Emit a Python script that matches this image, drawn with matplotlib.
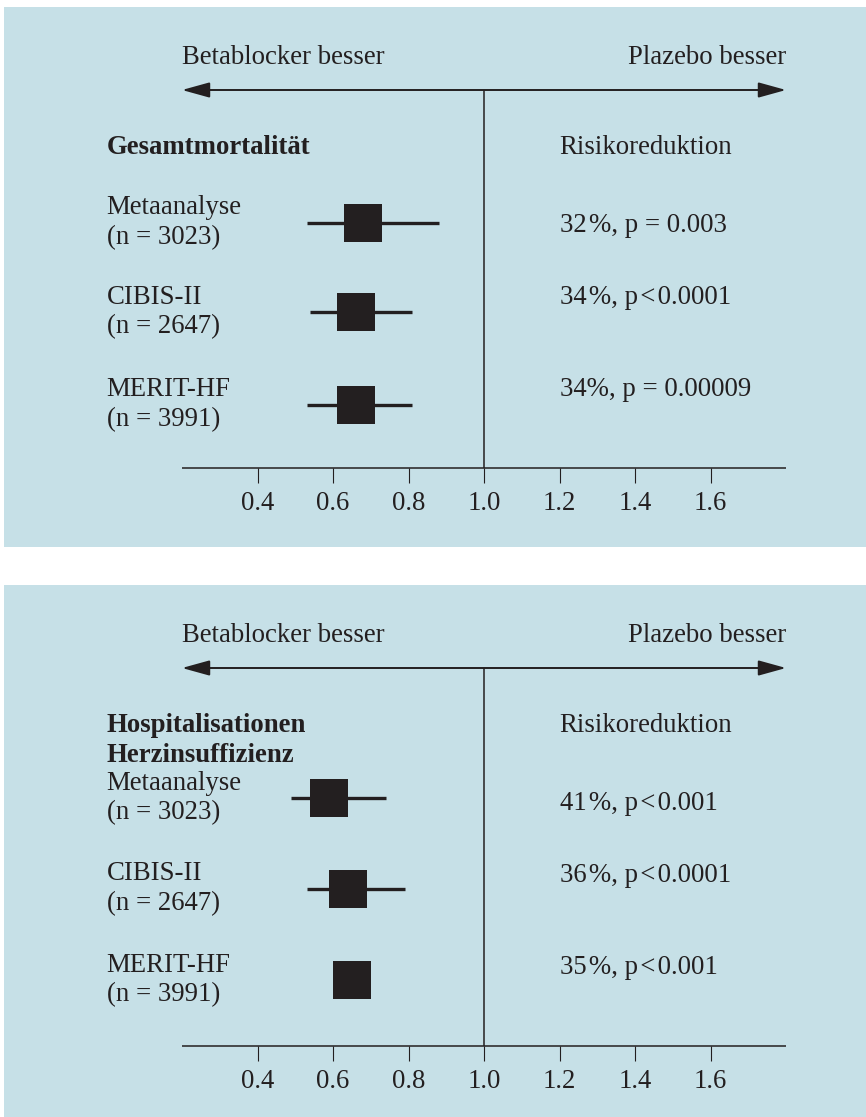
import matplotlib
matplotlib.use("Agg")
import numpy as np
import matplotlib.pyplot as plt
from matplotlib.patches import FancyArrowPatch

# --- data -------------------------------------------------------------
studies = ["Metaanalyse", "CIBIS-II", "MERIT-HF"]
patients = ["(n = 3023)", "(n = 2647)", "(n = 3991)"]

mort_hr = [0.68, 0.66, 0.66]
mort_lo = [0.53, 0.54, 0.53]
mort_hi = [0.88, 0.81, 0.81]
mort_text = ["32\u200a%, p = 0.003", "34\u200a%, p\u200a<\u200a0.0001", "34%, p = 0.00009"]

hosp_hr = [0.59, 0.64, 0.65]
hosp_lo = [0.49, 0.53, np.nan]
hosp_hi = [0.74, 0.79, np.nan]
hosp_text = ["41\u200a%, p\u200a<\u200a0.001", "36\u200a%, p\u200a<\u200a0.0001", "35\u200a%, p\u200a<\u200a0.001"]

ticks = [0.4, 0.6, 0.8, 1.0, 1.2, 1.4, 1.6]
axis_range = (0.2, 1.8)

# --- style ------------------------------------------------------------
plt.rcParams['font.family'] = ['Liberation Serif', 'DejaVu Serif']
bg = "#c6e0e7"
ink = "#231f20"
fs = 19.3

W, H = 866, 1117
fig = plt.figure(figsize=(W / 100, H / 100), dpi=100)

# pixel -> hazard-ratio mapping (1.0 sits at x=484, 0.2 per 75.5 px)
px_per_unit = 377.5
def hr_at(px):
    return 1.0 + (px - 484) / px_per_unit


def panel(top, bottom, title_lines, hr, lo, hi, rtext, rows, rtext_y):
    ax = fig.add_axes([3.5 / W, 1 - bottom / H, 1 - 3.5 / W, (bottom - top) / H])
    ax.set_facecolor(bg)
    ax.set_xlim(hr_at(3.5), hr_at(W))
    ax.set_ylim(bottom - top, 0)
    ax.set_xticks([])
    ax.set_yticks([])
    for sp in ax.spines.values():
        sp.set_visible(False)

    arrow_y, axis_y = 83, 461
    ax.text(axis_range[0], 51, "Betablocker besser", fontsize=fs, color=ink,
            ha="left", va="center")
    ax.text(axis_range[1], 51, "Plazebo besser", fontsize=fs, color=ink,
            ha="right", va="center")
    arr = FancyArrowPatch((axis_range[0], arrow_y), (axis_range[1], arrow_y),
                          arrowstyle="<|-|>,head_length=1.7,head_width=0.47",
                          mutation_scale=10, lw=1.4, color=ink,
                          shrinkA=0, shrinkB=0)
    ax.add_patch(arr)
    ax.vlines(1.0, arrow_y, axis_y, color=ink, lw=1.1)

    # bottom scale
    ax.hlines(axis_y, axis_range[0], axis_range[1], color=ink, lw=1.1)
    ax.vlines(ticks, axis_y, axis_y + 15, color=ink, lw=0.8)
    for t in ticks:
        ax.text(t, axis_y + 35, f"{t:.1f}", fontsize=fs, color=ink,
                ha="center", va="center")

    # headings
    for i, line in enumerate(title_lines):
        ax.text(0.0, 140 + 31 * i, line, fontsize=fs, color=ink,
                fontweight="bold", ha="left", va="center")
    ax.text(1.2, 140, "Risikoreduktion", fontsize=fs, color=ink,
            ha="left", va="center")

    # studies
    ax.hlines(rows, lo, hi, color=ink, lw=2.4)
    ax.plot(hr, rows, ls="none", marker="s", markersize=27.4, mew=0, color=ink)
    for y, name, n in zip(rows, studies, patients):
        ax.text(0.0, y - 15, name, fontsize=fs, color=ink, ha="left", va="center")
        ax.text(0.0, y + 15, n, fontsize=fs, color=ink, ha="left", va="center")
    for y, s in zip(rtext_y, rtext):
        ax.text(1.2, y, s, fontsize=fs, color=ink, ha="left", va="center")
    return ax


panel(7, 547, ["Gesamtmortalität"], mort_hr, mort_lo, mort_hi, mort_text,
      [216, 305, 398], [219, 291, 382])
panel(585, 1117, ["Hospitalisationen", "Herzinsuffizienz"], hosp_hr, hosp_lo,
      hosp_hi, hosp_text, [213, 304, 395], [218, 290, 382])

fig.savefig("out.png", dpi=100, facecolor="white")
